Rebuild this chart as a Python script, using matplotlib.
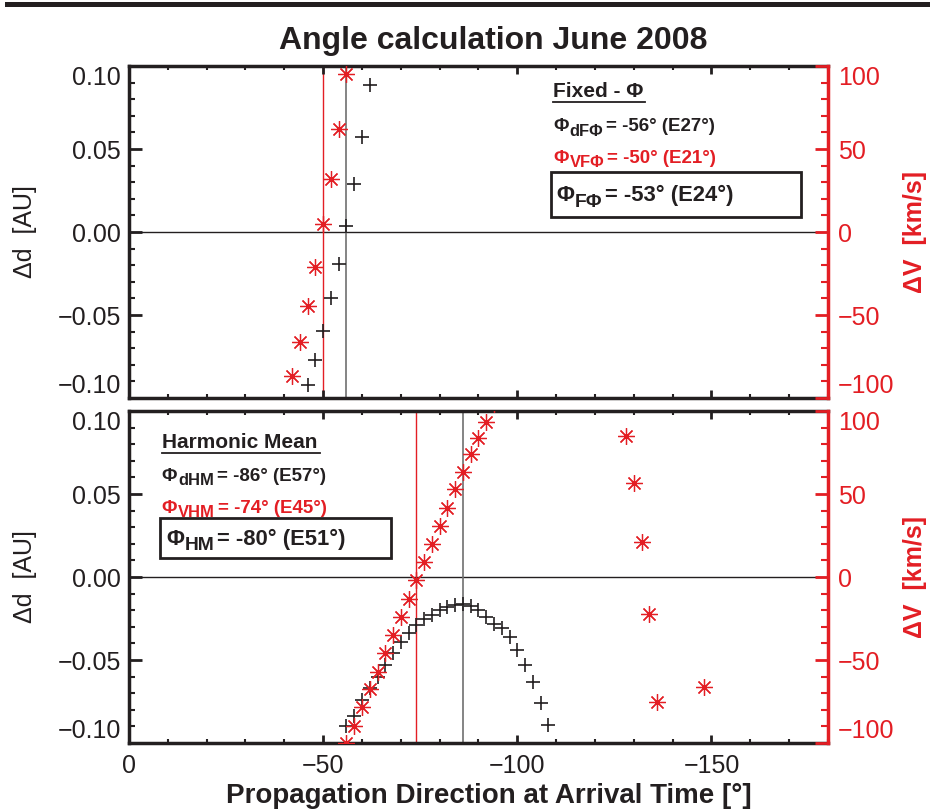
import matplotlib.pyplot as plt
from matplotlib.patches import Rectangle
from matplotlib.lines import Line2D
from matplotlib.ticker import MultipleLocator, FuncFormatter

plt.rcParams['font.family'] = ['Liberation Sans', 'DejaVu Sans']

RED = '#e31e24'
INK = '#231f20'

# Fixed-Phi method: distance and speed differences vs propagation angle
fp_d_ang = [-46, -48, -50, -52, -54, -56, -58, -60, -62]
fp_d = [-0.092, -0.077, -0.0595, -0.040, -0.0195, 0.0036, 0.029, 0.057, 0.0886]
fp_v_ang = [-42, -44, -46, -48, -50, -52, -54, -56]
fp_v = [-86.7, -66.4, -44.4, -20.9, 4.8, 31.9, 62.0, 95.2]
fp_phi_d, fp_phi_v = -56, -50

# Harmonic Mean method
hm_d_ang = [-56, -58, -60, -62, -64, -66, -68, -70, -72, -74, -76, -78, -80, -82,
            -84, -86, -88, -90, -92, -94, -96, -98, -100, -102, -104, -106, -108]
hm_d = [-0.090, -0.084, -0.074, -0.067, -0.060, -0.053, -0.046, -0.039, -0.034,
        -0.029, -0.0255, -0.023, -0.020, -0.018, -0.017, -0.0163, -0.0175, -0.020,
        -0.024, -0.028, -0.031, -0.036, -0.044, -0.053, -0.063, -0.076, -0.089]
hm_v_ang = [-56, -58, -60, -62, -64, -66, -68, -70, -72, -74, -76, -78, -80, -82,
            -84, -86, -88, -90, -92, -94, -128, -130, -132, -134, -136, -148]
hm_v = [-100, -89.8, -78.5, -67.7, -57.0, -46.0, -34.9, -23.9, -13.3, -1.8, 8.9,
        19.9, 30.7, 41.8, 52.8, 63.4, 73.9, 83.9, 93.6, 104, 84.9, 56.4, 21.3,
        -22.5, -75.1, -66.4]
hm_phi_d, hm_phi_v = -86, -74

d_ticks = [-0.10, -0.05, 0.00, 0.05, 0.10]
v_ticks = [-100, -50, 0, 50, 100]


def dfmt(v, pos):
    if abs(v) < 1e-9:
        v = 0.0
    return f'{v:.2f}'.replace('-', '\u2212')


def pull_in_end_labels(axis):
    # keep the end labels inside the panel so stacked panels don't collide
    ticks = axis.get_major_ticks()
    for lab in (ticks[0].label1, ticks[0].label2):
        lab.set_va('bottom')
    for lab in (ticks[-1].label1, ticks[-1].label2):
        lab.set_va('top')


def draw_panel(ax, d_ang, d, v_ang, v, phi_d, phi_v):
    ax.axhline(0, color=INK, lw=1, zorder=1)
    ax.axvline(phi_v, color=RED, lw=1, zorder=1)
    ax.axvline(phi_d, color='#707070', lw=1.2, zorder=1)
    ax.plot(d_ang, d, ls='none', marker='+', ms=10, mew=1.2, color=INK)
    ax.set_xlim(0, -180)
    ax.set_ylim(-0.10, 0.10)
    ax.xaxis.set_major_locator(MultipleLocator(50))
    ax.xaxis.set_minor_locator(MultipleLocator(10))
    ax.set_yticks(d_ticks)
    ax.yaxis.set_minor_locator(MultipleLocator(0.01))
    ax.yaxis.set_major_formatter(FuncFormatter(dfmt))
    ax.tick_params(axis='both', which='both', direction='in', top=True,
                   colors=INK, labelsize=18)
    ax.tick_params(axis='x', which='major', length=6, width=2, pad=8)
    ax.tick_params(axis='x', which='minor', length=3, width=1.5)
    ax.tick_params(axis='y', which='major', length=9.5, width=2, pad=6)
    ax.tick_params(axis='y', which='minor', length=4.5, width=1.5)
    pull_in_end_labels(ax.yaxis)
    for s in ax.spines.values():
        s.set_linewidth(2.5)
        s.set_color(INK)
    ax.spines['right'].set_visible(False)
    ax.set_ylabel('\u0394d  [AU]', fontsize=18, color=INK)
    ax.yaxis.set_label_coords(-0.132, 0.5)

    ax2 = ax.twinx()
    ax2.plot(v_ang, v, ls='none', marker=(8, 2, 0), ms=12, mew=0.9, color=RED)
    ax2.set_ylim(-100, 100)
    ax2.set_yticks(v_ticks)
    ax2.yaxis.set_minor_locator(MultipleLocator(10))
    ax2.tick_params(axis='y', which='both', direction='in', colors=RED,
                    labelsize=18)
    ax2.tick_params(axis='y', which='major', length=9.5, width=2, pad=7)
    ax2.tick_params(axis='y', which='minor', length=5, width=1.5)
    pull_in_end_labels(ax2.yaxis)
    for name, s in ax2.spines.items():
        s.set_visible(name == 'right')
    ax2.spines['right'].set_color(RED)
    ax2.spines['right'].set_linewidth(2.5)
    ax2.set_ylabel('\u0394V  [km/s]', fontsize=18, fontweight='bold', color=RED)
    ax2.yaxis.set_label_coords(1.108, 0.5)
    return ax2


def phi_label(ax, x, y, sub, rest, size, color):
    base = ax.text(x, y, '\u03a6', transform=ax.transAxes, fontsize=size,
                   fontweight='bold', color=color, va='baseline', ha='left')
    low = ax.annotate(sub, xy=(1, 0), xycoords=base,
                      xytext=(0.5, -0.2 * size), textcoords='offset points',
                      fontsize=size * 0.88, fontweight='bold', color=color,
                      va='bottom', ha='left')
    ax.annotate(rest, xy=(1, 0), xycoords=(low, base),
                xytext=(2, 0), textcoords='offset points',
                fontsize=size, fontweight='bold', color=color,
                va='bottom', ha='left')


def heading(ax, x, y, text, x1, yline):
    ax.text(x, y, text, transform=ax.transAxes, fontsize=15, fontweight='bold',
            color=INK, va='center', ha='left')
    ax.add_line(Line2D([x, x1], [yline, yline], transform=ax.transAxes,
                       color=INK, lw=1.3))


fig = plt.figure(figsize=(9.3, 8.11), dpi=100)
ax_bot = fig.add_axes([0.1387, 0.0838, 0.7516, 0.4094])
ax_top = fig.add_axes([0.1387, 0.5092, 0.7516, 0.4094], sharex=ax_bot)

top2 = draw_panel(ax_top, fp_d_ang, fp_d, fp_v_ang, fp_v, fp_phi_d, fp_phi_v)
bot2 = draw_panel(ax_bot, hm_d_ang, hm_d, hm_v_ang, hm_v, hm_phi_d, hm_phi_v)
ax_top.tick_params(labelbottom=False)

# Fixed-Phi annotations
heading(top2, 0.607, 0.922, 'Fixed - \u03a6', 0.738, 0.893)
phi_label(top2, 0.607, 0.805, 'dF\u03a6', '= -56\u00b0 (E27\u00b0)', 13.5, INK)
phi_label(top2, 0.607, 0.709, 'VF\u03a6', '= -50\u00b0 (E21\u00b0)', 13.5, RED)
top2.add_patch(Rectangle((0.604, 0.545), 0.357, 0.136, transform=top2.transAxes,
                         fill=False, lw=2, ec=INK))
phi_label(top2, 0.611, 0.593, 'F\u03a6', '= -53\u00b0 (E24\u00b0)', 15.8, INK)

# Harmonic Mean annotations
heading(bot2, 0.047, 0.904, 'Harmonic Mean', 0.273, 0.875)
phi_label(bot2, 0.047, 0.790, 'dHM', '= -86\u00b0 (E57\u00b0)', 13.5, INK)
phi_label(bot2, 0.047, 0.694, 'VHM', '= -74\u00b0 (E45\u00b0)', 13.5, RED)
bot2.add_patch(Rectangle((0.044, 0.557), 0.331, 0.121, transform=bot2.transAxes,
                         fill=False, lw=2, ec=INK))
phi_label(bot2, 0.053, 0.597, 'HM', '= -80\u00b0 (E51\u00b0)', 15.8, INK)

fig.text(0.530, 0.949, 'Angle calculation June 2008', fontsize=23,
         fontweight='bold', color=INK, ha='center', va='center')
fig.text(0.526, 0.019, 'Propagation Direction at Arrival Time [\u00b0]',
         fontsize=20, fontweight='bold', color=INK, ha='center', va='center')

# heavy rule along the top edge
fig.add_artist(Rectangle((0.005, 0.9915), 0.995, 0.0065,
                         transform=fig.transFigure, color=INK, lw=0))

fig.savefig('out.png', dpi=100)
